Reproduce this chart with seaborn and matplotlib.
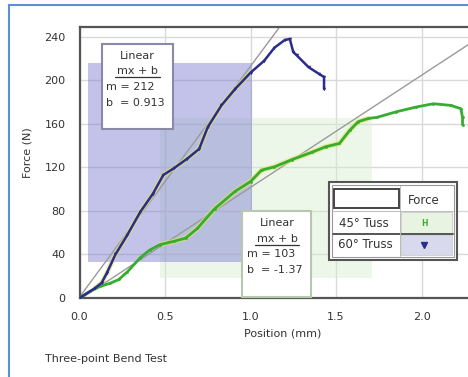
import numpy as np
import pandas as pd
import seaborn as sns
import matplotlib
matplotlib.use("Agg")
import matplotlib.pyplot as plt
from matplotlib.patches import Rectangle
from matplotlib.lines import Line2D

# ---------------- data ----------------
truss60_x = [0.0, 0.09, 0.13, 0.16, 0.21, 0.28, 0.355, 0.43, 0.49, 0.55, 0.63, 0.70,
             0.75, 0.83, 0.91, 1.0, 1.08, 1.14, 1.20, 1.23, 1.25, 1.27, 1.34, 1.40, 1.43, 1.43]
truss60_y = [0, 9, 14, 23, 40, 58, 79, 96, 113, 119, 128, 137,
             157, 177, 192, 207, 218, 230, 237, 238, 226, 223, 212, 206, 203, 192]

truss45_x = [0.0, 0.06, 0.12, 0.18, 0.23, 0.28, 0.355, 0.41, 0.47, 0.55, 0.62, 0.69,
             0.79, 0.91, 1.0, 1.065, 1.14, 1.24, 1.36, 1.44, 1.52, 1.58, 1.63, 1.69,
             1.74, 1.85, 1.97, 2.07, 2.17, 2.23, 2.24, 2.24]
truss45_y = [0, 6, 10.6, 13.6, 17, 24, 37, 44, 49, 52, 55, 64,
             82, 98, 107, 117.5, 120.5, 127, 134, 139, 142, 154, 162, 165,
             166, 171, 175.5, 178.5, 177, 174, 166, 159]

fit60 = {"m": 212, "b": 0.913, "x0": 0.05, "x1": 1.01, "y0": 33, "y1": 216}
fit45 = {"m": 103, "b": -1.37, "x0": 0.47, "x1": 1.71, "y0": 18, "y1": 165}

x_ticks = [0.0, 0.5, 1.0, 1.5, 2.0]
y_ticks = [0, 40, 80, 120, 160, 200, 240]

series_names = ["45° Tuss", "60° Truss"]

# ---------------- figure ----------------
sns.set_theme(style="whitegrid")
plt.rcParams["font.family"] = ["DejaVu Sans"]
W, H = 468, 377
fig = plt.figure(figsize=(W / 100, H / 100), dpi=100)
fig.patch.set_facecolor("white")

def fx(x):
    return x / W

def fy(y):
    return 1 - y / H

FS = 8
ax = fig.add_axes([79.5 / W, 79 / H, 427.5 / W, 271 / H])
ax.set_facecolor("white")
ax.set_xlim(0, 2.5)
ax.set_ylim(0, 249)

ax.grid(True, color="#d9d9d9", linewidth=1.0)
for s in ["left", "top", "bottom", "right"]:
    ax.spines[s].set_color("#555555")
    ax.spines[s].set_linewidth(1.6)

# selection regions (green first, purple translucent on top)
ax.add_patch(Rectangle((fit45["x0"], fit45["y0"]), fit45["x1"] - fit45["x0"],
                       fit45["y1"] - fit45["y0"], facecolor="#d6ecd0", alpha=0.45,
                       edgecolor="none", zorder=0.9))
ax.add_patch(Rectangle((fit60["x0"], fit60["y0"]), fit60["x1"] - fit60["x0"],
                       fit60["y1"] - fit60["y0"], facecolor="#7a7ad0", alpha=0.45,
                       edgecolor="none", zorder=1))

# fit lines
xf1 = np.array([0.0, 1.3])
ax.plot(xf1, fit60["m"] * xf1 + fit60["b"], color="#9a9a9a", lw=1.0, zorder=2)
xf2 = np.array([0.0, 2.5])
ax.plot(xf2, fit45["m"] * xf2 + fit45["b"], color="#9a9a9a", lw=1.0, zorder=2)

df60 = pd.DataFrame({"Position": truss60_x, "Force": truss60_y})
df45 = pd.DataFrame({"Position": truss45_x, "Force": truss45_y})

# yellow highlight on fitted regions
h60 = df60[(df60.Position >= fit60["x0"]) & (df60.Position <= fit60["x1"])]
h45 = df45[(df45.Position >= fit45["x0"]) & (df45.Position <= fit45["x1"])]
sns.lineplot(data=h60, x="Position", y="Force", sort=False, estimator=None, ax=ax,
             color="#e4e460", lw=3.6, alpha=0.6, zorder=3)
sns.lineplot(data=h45, x="Position", y="Force", sort=False, estimator=None, ax=ax,
             color="#e4e460", lw=3.8, alpha=0.6, zorder=3)

sns.lineplot(data=df45, x="Position", y="Force", sort=False, estimator=None, ax=ax,
             color="#36ad30", lw=2.0, marker="o", markersize=2, markeredgewidth=0,
             zorder=4)
sns.lineplot(data=df60, x="Position", y="Force", sort=False, estimator=None, ax=ax,
             color="#2c2c8c", lw=1.8, marker="v", markersize=2.5, markeredgewidth=0,
             zorder=5)

ax.set_xticks(x_ticks)
ax.set_xticklabels([f"{v:.1f}" for v in x_ticks])
ax.set_yticks(y_ticks)
ax.set_yticklabels([str(v) for v in y_ticks])
ax.tick_params(axis="both", length=0, labelsize=FS, colors="#333333")
ax.tick_params(axis="y", pad=10)
ax.tick_params(axis="x", pad=10)
ax.set_xlabel("")
ax.set_ylabel("")

tc = "#333333"
fig.text(fx(27), fy(153), "Force (N)", rotation=90, ha="center", va="center",
         fontsize=FS, color=tc)
fig.text(fx(283), fy(333), "Position (mm)", ha="center", va="center",
         fontsize=FS, color=tc)
fig.text(fx(45), fy(359), "Three-point Bend Test", ha="left", va="center",
         fontsize=FS, color=tc)

# blue frame
fig.add_artist(Line2D([fx(9), fx(9)], [fy(5), fy(377)], color="#5b8fd6", lw=1.5))
fig.add_artist(Line2D([fx(9), fx(468)], [fy(5), fy(5)], color="#5b8fd6", lw=1.5))

# annotation boxes
def fit_box(x0, y0, x1, y1, ec, cx, lx, ys, ul, m, b):
    fig.add_artist(Rectangle((fx(x0), fy(y1)), fx(x1) - fx(x0), fy(y0) - fy(y1),
                             transform=fig.transFigure, facecolor="white",
                             edgecolor=ec, lw=1.5))
    fig.text(fx(cx), fy(ys[0]), "Linear", ha="center", va="center", fontsize=FS, color=tc)
    fig.text(fx(cx), fy(ys[1]), "mx + b", ha="center", va="center", fontsize=FS, color=tc)
    fig.add_artist(Line2D([fx(ul[0]), fx(ul[1])], [fy(ul[2]), fy(ul[2])],
                          color=tc, lw=0.9))
    fig.text(fx(lx), fy(ys[2]), f"m = {m}", ha="left", va="center", fontsize=FS, color=tc)
    fig.text(fx(lx), fy(ys[3]), f"b  = {b}", ha="left", va="center", fontsize=FS, color=tc)

fit_box(102, 44, 173, 129, "#8a8aa8", 137.5, 106, [56, 71, 87, 103], (115, 160, 77),
        fit60["m"], fit60["b"])
fit_box(242, 211, 311, 297, "#b8c8b0", 277, 247, [223, 239, 254, 270], (255, 299, 245),
        fit45["m"], fit45["b"])

# legend table
def frect(x0, y0, x1, y1, **kw):
    fig.add_artist(Rectangle((fx(x0), fy(y1)), fx(x1) - fx(x0), fy(y0) - fy(y1),
                             transform=fig.transFigure, **kw))

LFS = 8.5
frect(329, 182, 457, 260, facecolor="white", edgecolor="#555555", lw=1.5)
frect(332, 185, 454, 257, facecolor="none", edgecolor="#999999", lw=0.8)
frect(401, 212, 452, 233, facecolor="#e9f3e2", edgecolor="#cccccc", lw=0.6)
frect(401, 235, 452, 255, facecolor="#d9d9ee", edgecolor="#cccccc", lw=0.6)
frect(334, 189, 399, 208, facecolor="white", edgecolor="#444444", lw=1.4)
fig.add_artist(Line2D([fx(333), fx(453)], [fy(234), fy(234)], color="#555555", lw=1.4))
fig.add_artist(Line2D([fx(333), fx(453)], [fy(211), fy(211)], color="#bbbbbb", lw=0.7))
fig.add_artist(Line2D([fx(400), fx(400)], [fy(186), fy(256)], color="#bbbbbb", lw=0.7))
fig.text(fx(424), fy(200), "Force", ha="center", va="center", fontsize=LFS, color=tc)
fig.text(fx(364), fy(223), series_names[0], ha="center", va="center", fontsize=LFS, color=tc)
fig.text(fx(365), fy(244), series_names[1], ha="center", va="center", fontsize=LFS, color=tc)
fig.text(fx(424), fy(223), "H", ha="center", va="center", fontsize=5.5,
         color="#36ad30", fontweight="bold")
fig.add_artist(Line2D([fx(424)], [fy(245)], marker="v", color="#2c2c8c",
                      markersize=4, lw=0))

fig.savefig("out.png", dpi=100)
